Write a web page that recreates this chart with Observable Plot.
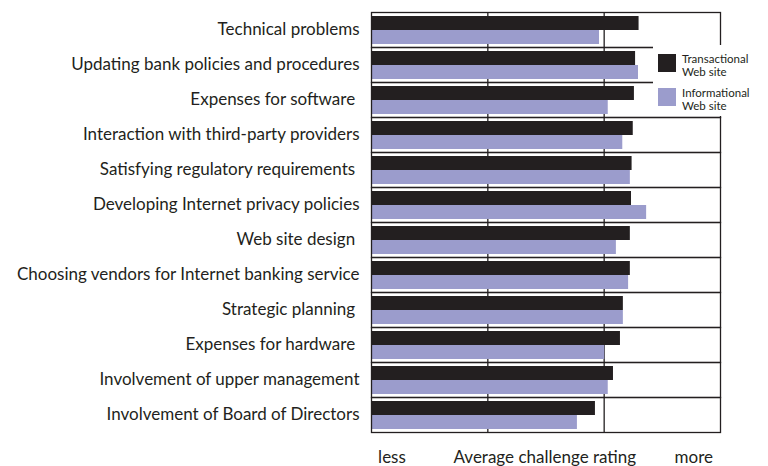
<!DOCTYPE html>
<html>
<head>
<meta charset="utf-8">
<script src="https://cdn.jsdelivr.net/npm/d3@7"></script>
<script src="https://cdn.jsdelivr.net/npm/@observablehq/plot@0.6"></script>
<style>
  html, body { margin: 0; padding: 0; background: #fff; }
  #wrap { position: relative; width: 768px; height: 466px; font-family: Lato, "Open Sans", sans-serif; color: #231f20; }
  #legend { position: absolute; left: 653px; top: 45px; width: 115px; height: 71px; background: #fff; box-sizing: border-box; padding: 9px 0 0 5px; }
  .item { display: flex; align-items: flex-start; height: 34px; }
  .sw { width: 18px; height: 18px; flex: none; margin-top: 0px; }
  .lab { margin-left: 6px; font-size: 11.5px; line-height: 13px; margin-top: -2px; }
  .lab div { height: 13px; line-height: 13px; }
</style>
</head>
<body>
<div id="wrap"><div id="chart"></div><div id="legend"></div></div>
<script>
const categories = [
  "Technical problems",
  "Updating bank policies and procedures",
  "Expenses for software\u00a0",
  "Interaction with third-party providers",
  "Satisfying regulatory requirements\u00a0",
  "Developing Internet privacy policies",
  "Web site design\u00a0",
  "Choosing vendors for Internet banking service",
  "Strategic planning\u00a0",
  "Expenses for hardware\u00a0",
  "Involvement of upper management",
  "Involvement of Board of Directors"
];
const transactional = [2.30, 2.27, 2.26, 2.25, 2.24, 2.235, 2.225, 2.225, 2.165, 2.14, 2.08, 1.925];
const informational = [1.96, 2.295, 2.035, 2.16, 2.225, 2.365, 2.105, 2.21, 2.165, 2.005, 2.035, 1.77];
const series = ["Transactional Web site", "Informational Web site"];
const seriesLines = [["Transactional", "Web site"], ["Informational", "Web site"]];
const colors = ["#231f20", "#9b9ccc"];
const gridValues = [1, 2];
const xTicks = [0.176, 1.49, 2.77];
const xTickLabels = ["less", "Average challenge rating", "more"];

const data = [];
categories.forEach((c, i) => {
  data.push({category: c, series: series[0], value: transactional[i]});
  data.push({category: c, series: series[1], value: informational[i]});
});

const chart = Plot.plot({
  width: 768,
  height: 466,
  marginLeft: 371,
  marginRight: 48,
  marginTop: 10,
  marginBottom: 33,
  x: {domain: [0, 3]},
  fy: {domain: categories, padding: 0},
  y: {domain: series, paddingInner: 0, paddingOuter: 0.2, axis: null},
  color: {domain: series, range: colors},
  style: {fontFamily: "Lato, 'Open Sans', sans-serif", fontSize: "17px", color: "#231f20", background: "#fff"},
  marks: [
    Plot.gridX(gridValues, {stroke: "#231f20", strokeOpacity: 1, strokeWidth: 1.3}),
    Plot.barX(data, {x: "value", y: "series", fy: "category", fill: "series"}),
    Plot.frame({stroke: "#231f20", strokeWidth: 1.3}),
    Plot.axisFy({anchor: "left", label: null, tickSize: 0, tickPadding: 12, fontSize: 17, fill: "#231f20"}),
    Plot.axisX(xTicks, {tickSize: 0, tickPadding: 18, label: null, fontSize: 17, fill: "#231f20",
      tickFormat: (d, i) => xTickLabels[i]})
  ]
});
document.getElementById("chart").appendChild(chart);

const legend = document.getElementById("legend");
series.forEach((s, i) => {
  const item = document.createElement("div");
  item.className = "item";
  const sw = document.createElement("div");
  sw.className = "sw";
  sw.style.background = colors[i];
  const lab = document.createElement("div");
  lab.className = "lab";
  seriesLines[i].forEach(t => {
    const line = document.createElement("div");
    line.textContent = t;
    lab.appendChild(line);
  });
  item.appendChild(sw);
  item.appendChild(lab);
  legend.appendChild(item);
});
</script>
</body>
</html>
